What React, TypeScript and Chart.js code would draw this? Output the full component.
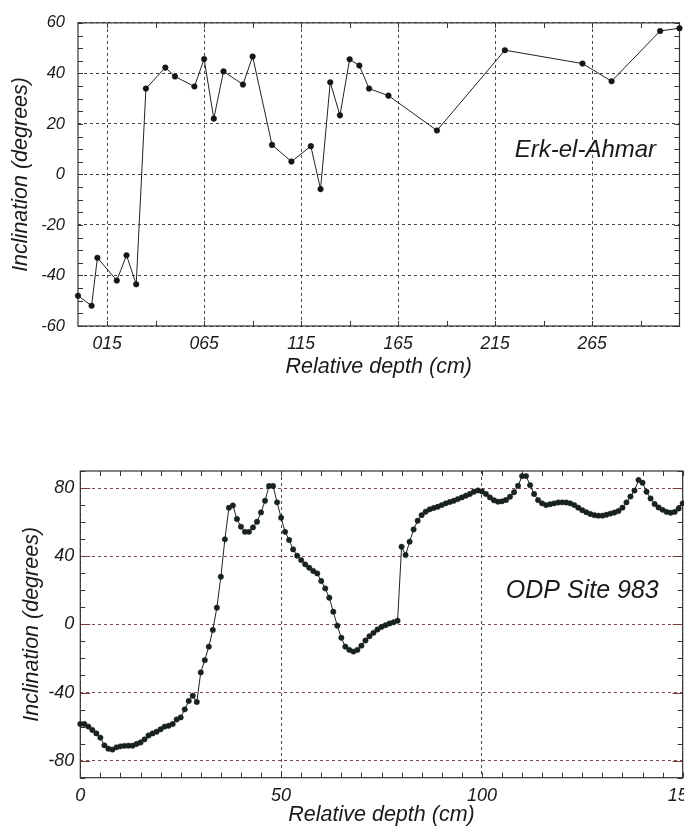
import React, { useEffect, useRef } from 'react';
import { Chart, registerables } from 'chart.js';
Chart.register(...registerables);

// ---------- Erk-el-Ahmar (top) ----------
const erkDepth = [0, 7, 10, 20, 25, 30, 35, 45, 50, 60, 65, 70, 75, 85, 90, 100, 110, 120, 125, 130, 135, 140, 145, 150, 160, 185, 220, 260, 275, 300, 310];
const erkInclination = [-48, -52, -33, -42, -32, -43.5, 34, 42.3, 38.8, 34.8, 45.7, 22.1, 40.8, 35.6, 46.7, 11.7, 5.1, 11.2, -5.8, 36.5, 23.4, 45.6, 43.1, 34, 31.2, 17.4, 49.2, 43.9, 36.9, 56.8, 57.9];
const erkXTicks = [15, 65, 115, 165, 215, 265];
const erkYTicks = [-60, -40, -20, 0, 20, 40, 60];

// ---------- ODP Site 983 (bottom) ----------
const odpDepth = [
  0, 1, 2, 3, 4, 5, 6, 7, 8, 9,
  10, 11, 12, 13, 14, 15, 16, 17, 18, 19,
  20, 21, 22, 23, 24, 25, 26, 27, 28, 29,
  30, 31, 32, 33, 34, 35, 36, 37, 38, 39,
  40, 41, 42, 43, 44, 45, 46, 47, 48, 49,
  50, 51, 52, 53, 54, 55, 56, 57, 58, 59,
  60, 61, 62, 63, 64, 65, 66, 67, 68, 69,
  70, 71, 72, 73, 74, 75, 76, 77, 78, 79,
  80, 81, 82, 83, 84, 85, 86, 87, 88, 89,
  90, 91, 92, 93, 94, 95, 96, 97, 98, 99,
  100, 101, 102, 103, 104, 105, 106, 107, 108, 109,
  110, 111, 112, 113, 114, 115, 116, 117, 118, 119,
  120, 121, 122, 123, 124, 125, 126, 127, 128, 129,
  130, 131, 132, 133, 134, 135, 136, 137, 138, 139,
  140, 141, 142, 143, 144, 145, 146, 147, 148, 149,
  150,
];
const odpInclination = [
  -58.5, -58.5, -60, -62, -64, -66.5, -71, -73, -73.5, -72.2,
  -71.6, -71.3, -71.2, -71.2, -70.2, -69.3, -67.5, -65.2, -64, -63,
  -61.6, -60, -59.5, -58.5, -55.8, -54.6, -49.9, -45, -41.9, -45.6,
  -28.2, -21, -13.1, -3.3, 9.8, 27.9, 49.9, 68.4, 69.8, 61.8,
  57.3, 54.3, 54.3, 56.9, 60.2, 65.7, 72.5, 81.2, 81.2, 71.6,
  62.6, 54.3, 49.5, 44, 40.3, 37.7, 35.2, 33.2, 31.3, 29.9,
  25.4, 21.1, 15.6, 7.4, -0.8, -7.9, -13.1, -15, -16, -15,
  -12.5, -9.5, -7, -5, -3, -1.5, -0.5, 0.5, 1.2, 2.1,
  45.5, 40.7, 48.5, 55.7, 60.8, 64.1, 66.1, 67.5, 68.3, 69,
  70, 71, 71.8, 72.5, 73.5, 74.5, 75.5, 76.5, 77.8, 78.6,
  78, 76.5, 74.5, 72.8, 72, 72.2, 73, 74.9, 77.5, 81.3,
  87, 87, 81.7, 76.5, 72.9, 71, 70, 70.5, 71, 71.5,
  71.6, 71.5, 71, 70, 68.5, 67, 65.8, 64.8, 64.1, 63.8,
  63.8, 64.3, 65, 65.6, 66.5, 68.5, 71.6, 75, 78.5, 84.7,
  83.1, 77.8, 73.9, 70.6, 68.6, 67.2, 66, 65.5, 66, 68,
  71,
];
const odpXTicks = [0, 50, 100, 150];
const odpYTicks = [-80, -40, 0, 40, 80];

const TEXT = '#1a1a1a';

const framePlugin = {
  id: 'frame',
  beforeDatasetsDraw(chart: any, _args: any, o: any) {
    const { ctx, chartArea: a, scales } = chart;
    const xs = scales.x;
    const ys = scales.y;
    ctx.save();
    ctx.setLineDash([]);
    ctx.lineWidth = 1;
    const seg = (x1: number, y1: number, x2: number, y2: number, color: string) => {
      ctx.strokeStyle = color;
      ctx.beginPath();
      ctx.moveTo(x1, y1);
      ctx.lineTo(x2, y2);
      ctx.stroke();
    };
    for (let v = o.xStart; v <= xs.max + 1e-6; v += o.xStep) {
      const px = Math.round(xs.getPixelForValue(v)) + 0.5;
      seg(px, a.bottom, px, a.bottom - o.xLen, o.color);
      seg(px, a.top, px, a.top + o.xLen, o.color);
    }
    for (let v = o.yStart; v <= ys.max + 1e-6; v += o.yStep) {
      const py = Math.round(ys.getPixelForValue(v)) + 0.5;
      const major = o.yMajorStep && Math.abs(((v - o.yMajorStart) % o.yMajorStep)) < 1e-6;
      const len = major ? o.yMajorLen : o.yLen;
      const col = major ? o.yMajorColor : o.color;
      seg(a.left, py, a.left + len, py, col);
      seg(a.right, py, a.right - len, py, col);
    }
    ctx.strokeStyle = o.color;
    ctx.lineWidth = 1.2;
    ctx.strokeRect(a.left, a.top, a.right - a.left, a.bottom - a.top);
    ctx.font = o.labelFont;
    ctx.fillStyle = TEXT;
    ctx.textAlign = 'center';
    ctx.textBaseline = 'middle';
    ctx.fillText(o.label, xs.getPixelForValue(o.labelX), ys.getPixelForValue(o.labelY));
    ctx.restore();
  },
};

const tickFont = (size: number) => ({ family: 'Liberation Sans', style: 'italic' as const, size });
const titleFont = { family: 'Liberation Sans', style: 'italic' as const, size: 21.5 };

function topConfig(): any {
  return {
    type: 'line',
    data: {
      datasets: [{
        data: erkDepth.map((x, i) => ({ x, y: erkInclination[i] })),
        borderColor: '#222',
        borderWidth: 1,
        pointRadius: 2.8,
        pointBorderWidth: 0.5,
        pointBackgroundColor: '#151515',
        pointBorderColor: '#151515',
        tension: 0,
        clip: false,
      }],
    },
    plugins: [framePlugin],
    options: {
      responsive: false,
      animation: false,
      devicePixelRatio: 1,
      layout: { padding: { top: 19, right: 3.3, bottom: 0, left: 0 } },
      plugins: {
        legend: { display: false },
        tooltip: { enabled: false },
        frame: {
          color: '#333', xStart: 15, xStep: 25, xLen: 5, yStart: -60, yStep: 5, yLen: 5,
          yMajorStep: 0, yMajorStart: 0, yMajorLen: 5, yMajorColor: '#333',
          label: 'Erk-el-Ahmar', labelX: 261.5, labelY: 9.4, labelFont: 'italic 24px "Liberation Sans"',
        },
      },
      scales: {
        x: {
          type: 'linear', min: 0, max: 310,
          afterBuildTicks: (s: any) => { s.ticks = erkXTicks.map((v) => ({ value: v })); },
          afterFit: (s: any) => { s.height = 74; },
          grid: { color: '#444', lineWidth: 1, drawTicks: false },
          border: { display: false, dash: [3, 3] },
          ticks: {
            padding: 7.5, color: TEXT, font: tickFont(17.5), maxRotation: 0, autoSkip: false,
            callback: (v: any) => String(v).padStart(3, '0'),
          },
          title: { display: true, text: 'Relative depth (cm)', color: TEXT, font: titleFont, padding: { top: 0, bottom: 19.6 } },
        },
        y: {
          type: 'linear', min: -60, max: 60,
          afterBuildTicks: (s: any) => { s.ticks = erkYTicks.map((v) => ({ value: v })); },
          afterFit: (s: any) => { s.width = 78; },
          grid: { color: '#444', lineWidth: 1, drawTicks: false },
          border: { display: false, dash: [3, 3] },
          ticks: { padding: 13, color: TEXT, font: tickFont(16.5), autoSkip: false },
          title: { display: true, text: 'Inclination (degrees)', color: TEXT, font: titleFont, padding: { top: 7.9, bottom: 0 } },
        },
      },
    },
  };
}

function bottomConfig(): any {
  return {
    type: 'line',
    data: {
      datasets: [{
        data: odpDepth.map((x, i) => ({ x, y: odpInclination[i] })),
        borderColor: '#222',
        borderWidth: 1,
        pointRadius: 2.7,
        pointBorderWidth: 0.5,
        pointBackgroundColor: '#18231d',
        pointBorderColor: '#18231d',
        tension: 0,
        clip: false,
      }],
    },
    plugins: [framePlugin],
    options: {
      responsive: false,
      animation: false,
      devicePixelRatio: 1,
      layout: { padding: { top: 31, right: 37.3, bottom: 0, left: 0 } },
      plugins: {
        legend: { display: false },
        tooltip: { enabled: false },
        frame: {
          color: '#333', xStart: 0, xStep: 5, xLen: 5, yStart: -90, yStep: 10, yLen: 5,
          yMajorStep: 40, yMajorStart: -80, yMajorLen: 10, yMajorColor: '#7a3a3a',
          label: 'ODP Site 983', labelX: 125, labelY: 19.7, labelFont: 'italic 25px "Liberation Sans"',
        },
      },
      scales: {
        x: {
          type: 'linear', min: 0, max: 150,
          afterBuildTicks: (s: any) => { s.ticks = odpXTicks.map((v) => ({ value: v })); },
          afterFit: (s: any) => { s.height = 62.3; },
          grid: { color: '#444', lineWidth: 1, drawTicks: false },
          border: { display: false, dash: [3, 3] },
          ticks: { padding: 7, color: TEXT, font: tickFont(18), maxRotation: 0, autoSkip: false },
          title: { display: true, text: 'Relative depth (cm)', color: TEXT, font: titleFont, padding: { top: 0, bottom: 11.9 } },
        },
        y: {
          type: 'linear', min: -90, max: 90,
          afterBuildTicks: (s: any) => { s.ticks = odpYTicks.map((v) => ({ value: v })); },
          afterFit: (s: any) => { s.width = 80.3; },
          grid: { color: '#7a4a4a', lineWidth: 1, drawTicks: false },
          border: { display: false, dash: [3, 3] },
          ticks: { padding: 6, color: TEXT, font: tickFont(18), autoSkip: false },
          title: { display: true, text: 'Inclination (degrees)', color: TEXT, font: titleFont, padding: { top: 19, bottom: 0 } },
        },
      },
    },
  };
}

export default function App() {
  const topRef = useRef<HTMLCanvasElement>(null);
  const botRef = useRef<HTMLCanvasElement>(null);
  useEffect(() => {
    const c1 = new Chart(topRef.current as HTMLCanvasElement, topConfig());
    const c2 = new Chart(botRef.current as HTMLCanvasElement, bottomConfig());
    return () => { c1.destroy(); c2.destroy(); };
  }, []);
  return (
    <div style={{ position: 'absolute', left: 0, top: 0, width: 684, height: 826, overflow: 'hidden', background: '#fff' }}>
      <canvas ref={topRef} width={684} height={400} style={{ position: 'absolute', left: 0, top: 0, display: 'block' }} />
      <canvas ref={botRef} width={720} height={400} style={{ position: 'absolute', left: 0, top: 440, display: 'block' }} />
    </div>
  );
}
